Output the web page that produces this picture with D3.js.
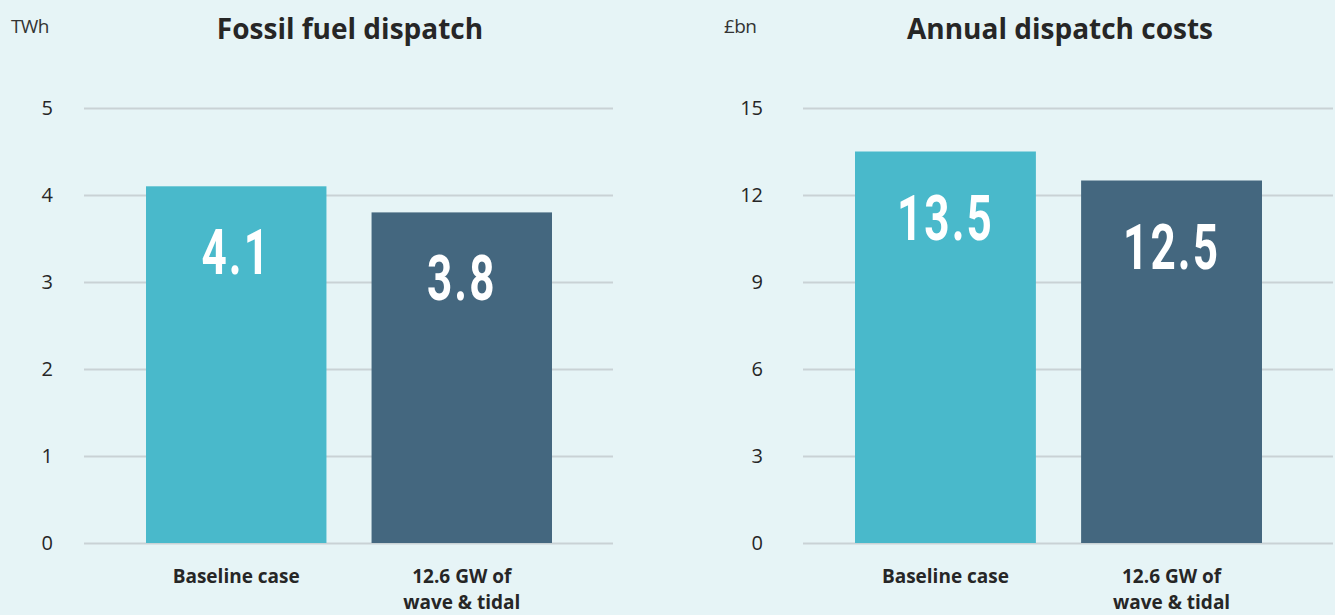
<!DOCTYPE html>
<html>
<head>
<meta charset="utf-8">
<script src="https://cdn.jsdelivr.net/npm/d3@7"></script>
<style>
  html, body { margin: 0; padding: 0; background: #e6f4f6; }
  svg { display: block; }
  .tick line { stroke: #c9d2d5; stroke-width: 2; }
  .tick text { font-family: "Open Sans", sans-serif; font-size: 20px; fill: #262626; }
  .domain { display: none; }
</style>
</head>
<body>
<svg id="chart" width="1335" height="615"></svg>
<script>
// Scenario categories shared by both panels
const categories = ["Baseline case", "12.6 GW of\nwave & tidal"];

// Fossil fuel dispatch, TWh
const dispatchValues = [4.1, 3.8];
const dispatchTicks = [0, 1, 2, 3, 4, 5];

// Annual dispatch costs, £bn
const costValues = [13.5, 12.5];
const costTicks = [0, 3, 6, 9, 12, 15];

const barColors = ["#49b9cb", "#44677f"];

const svg = d3.select("#chart");
svg.append("rect").attr("width", 1335).attr("height", 615).attr("fill", "#e6f4f6");

function panel(cfg) {
  const g = svg.append("g");
  const y = d3.scaleLinear().domain(cfg.domain).range([543, 108]);
  const x = d3.scaleBand().domain(categories).range(cfg.barRange).paddingInner(0.2).paddingOuter(0);

  // gridlines + tick labels
  g.append("g")
    .attr("transform", `translate(${cfg.gridX0},0)`)
    .call(d3.axisLeft(y).tickValues(cfg.ticks).tickFormat(d3.format("d"))
      .tickSize(-(cfg.gridX1 - cfg.gridX0)).tickPadding(cfg.tickPad));

  // unit label
  g.append("text")
    .attr("x", cfg.unitX).attr("y", 33)
    .attr("font-family", "Open Sans, sans-serif").attr("font-size", 19)
    .attr("letter-spacing", -0.6)
    .attr("fill", "#333").text(cfg.unit);

  // title
  g.append("text")
    .attr("x", cfg.titleX).attr("y", 39)
    .attr("text-anchor", "middle")
    .attr("font-family", "Open Sans, sans-serif").attr("font-weight", 700).attr("font-size", 28)
    .attr("fill", "#262626").text(cfg.title);

  // bars
  g.selectAll("rect.bar").data(cfg.values).join("rect")
    .attr("class", "bar")
    .attr("x", (d, i) => x(categories[i]))
    .attr("width", x.bandwidth())
    .attr("y", d => y(d))
    .attr("height", d => y(0) - y(d))
    .attr("fill", (d, i) => barColors[i]);

  // value labels inside bars (condensed numerals)
  g.selectAll("text.val").data(cfg.values).join("text")
    .attr("class", "val")
    .attr("transform", (d, i) => `translate(${x(categories[i]) + x.bandwidth() / 2},${y(d) + 88}) scale(0.7,1)`)
    .attr("text-anchor", "middle")
    .attr("font-family", "Roboto, sans-serif").attr("font-weight", 700).attr("font-size", 63)
    .attr("letter-spacing", 3)
    .attr("fill", "#ffffff")
    .text(d => d.toFixed(1));

  // category labels, one text element per line
  categories.forEach(c => {
    const cx = x(c) + x.bandwidth() / 2;
    c.split("\n").forEach((line, k) => {
      g.append("text")
        .attr("class", "cat")
        .attr("x", cx).attr("y", 583 + k * 26)
        .attr("text-anchor", "middle")
        .attr("font-family", "Open Sans, sans-serif").attr("font-weight", 700).attr("font-size", 19)
        .attr("fill", "#262626")
        .text(line);
    });
  });
}

panel({
  domain: [0, 5], ticks: dispatchTicks, values: dispatchValues,
  barRange: [146, 552], gridX0: 84, gridX1: 613, tickPad: 31,
  unit: "TWh", unitX: 11, title: "Fossil fuel dispatch", titleX: 350
});

panel({
  domain: [0, 15], ticks: costTicks, values: costValues,
  barRange: [855, 1262], gridX0: 803, gridX1: 1333, tickPad: 40,
  unit: "£bn", unitX: 724, title: "Annual dispatch costs", titleX: 1060
});
</script>
</body>
</html>
